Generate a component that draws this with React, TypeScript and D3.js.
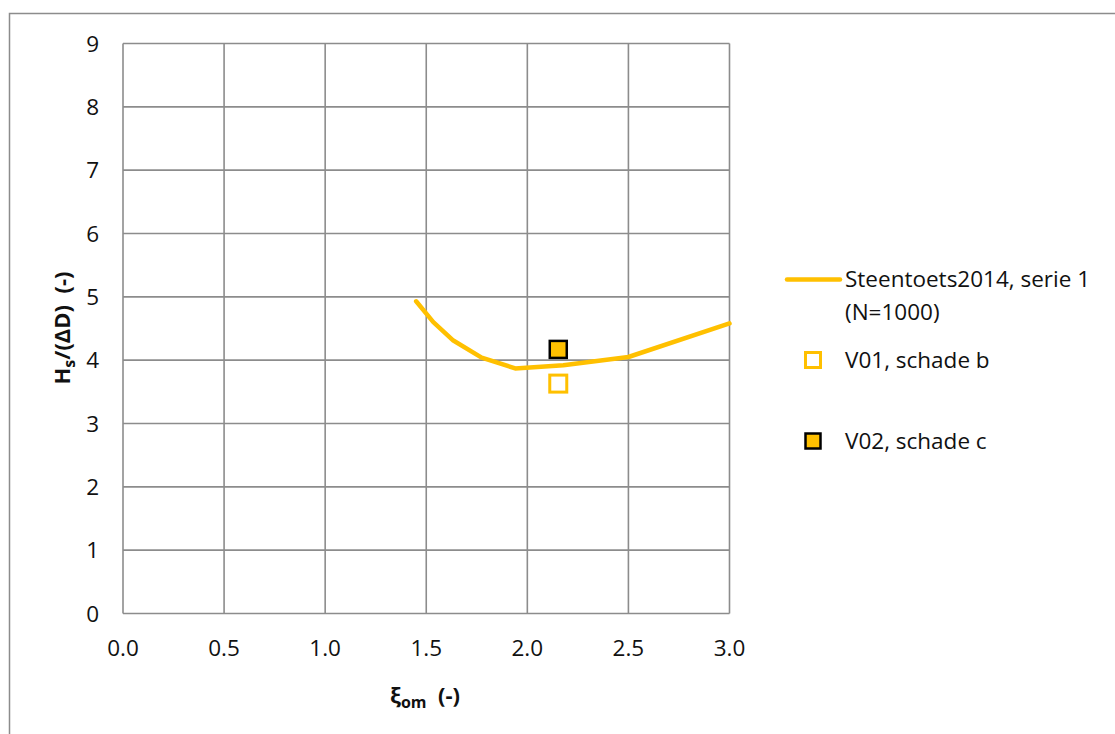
import React from "react";
import * as d3 from "d3";

const curveXi = [1.45, 1.535, 1.634, 1.774, 1.94, 2.178, 2.5, 3.0];
const curveH = [4.93, 4.6, 4.31, 4.04, 3.87, 3.92, 4.05, 4.58];
const v01 = [{ x: 2.153, y: 3.63 }];
const v02 = [{ x: 2.153, y: 4.17 }];
const xTicks = [0, 0.5, 1.0, 1.5, 2.0, 2.5, 3.0];
const yTicks = [0, 1, 2, 3, 4, 5, 6, 7, 8, 9];

const W = 1115;
const H = 734;
const FONT = "'Open Sans', sans-serif";
const GOLD = "#FFC000";
const GRID = "#8c8c8c";
const FS = 22.5;

export default function App() {
  const x = d3.scaleLinear().domain([0, 3]).range([123, 729.5]);
  const y = d3.scaleLinear().domain([0, 9]).range([613.5, 43.5]);
  const line = d3
    .line<number>()
    .x((_, i) => x(curveXi[i]))
    .y((d) => y(d))
    .curve(d3.curveLinear);
  const ms = 17;

  return (
    <svg
      width={W}
      height={H}
      style={{ position: "absolute", left: 0, top: 0, display: "block", background: "#fff" }}
      fontFamily={FONT}
    >
      <rect x={9.5} y={13.5} width={W} height={H} fill="#fff" stroke="#8c8c8c" strokeWidth={1.5} />
      {/* grid */}
      {xTicks.map((t) => (
        <line key={"gx" + t} x1={x(t)} x2={x(t)} y1={y(9)} y2={y(0)} stroke={GRID} strokeWidth={1.6} />
      ))}
      {yTicks.map((t) => (
        <line key={"gy" + t} x1={x(0)} x2={x(3)} y1={y(t)} y2={y(t)} stroke={GRID} strokeWidth={1.6} />
      ))}
      {/* tick labels */}
      {yTicks.map((t) => (
        <text key={"ty" + t} x={99} y={y(t)} dy="0.36em" textAnchor="end" fontSize={FS} fill="#111">
          {t}
        </text>
      ))}
      {xTicks.map((t) => (
        <text key={"tx" + t} x={x(t)} y={656} textAnchor="middle" fontSize={FS} fill="#111">
          {t.toFixed(1)}
        </text>
      ))}
      {/* curve */}
      <path d={line(curveH) || ""} fill="none" stroke={GOLD} strokeWidth={4.5} strokeLinejoin="round" strokeLinecap="round" />
      {v01.map((p, i) => (
        <rect key={"a" + i} x={x(p.x) - ms / 2} y={y(p.y) - ms / 2} width={ms} height={ms} fill="#fff" stroke={GOLD} strokeWidth={3} />
      ))}
      {v02.map((p, i) => (
        <rect key={"b" + i} x={x(p.x) - ms / 2} y={y(p.y) - ms / 2} width={ms} height={ms} fill={GOLD} stroke="#000" strokeWidth={2.5} />
      ))}
      {/* axis titles */}
      <text x={425} y={703} textAnchor="middle" fontSize={22} fontWeight="bold" fill="#111">
        ξ<tspan fontSize={16} dy={5}>om</tspan>
        <tspan dy={-5}>{"\u00a0 (-)"}</tspan>
      </text>
      <text transform="translate(70,328) rotate(-90)" textAnchor="middle" fontSize={22} fontWeight="bold" fill="#111">
        H<tspan fontSize={16} dy={5}>s</tspan>
        <tspan dy={-5}>{"/(ΔD)\u00a0 (-)"}</tspan>
      </text>
      {/* legend */}
      <line x1={787} x2={840} y1={279.5} y2={279.5} stroke={GOLD} strokeWidth={4.5} strokeLinecap="round" />
      <text x={845} y={287} fontSize={FS} fill="#111">Steentoets2014, serie 1</text>
      <text x={845} y={320} fontSize={FS} fill="#111">(N=1000)</text>
      <rect x={813 - 7.5} y={360 - 7.5} width={15} height={15} fill="#fff" stroke={GOLD} strokeWidth={3} />
      <text x={845} y={368} fontSize={FS} fill="#111">V01, schade b</text>
      <rect x={813 - 7.5} y={441 - 7.5} width={15} height={15} fill={GOLD} stroke="#000" strokeWidth={2.5} />
      <text x={845} y={449} fontSize={FS} fill="#111">V02, schade c</text>
    </svg>
  );
}
